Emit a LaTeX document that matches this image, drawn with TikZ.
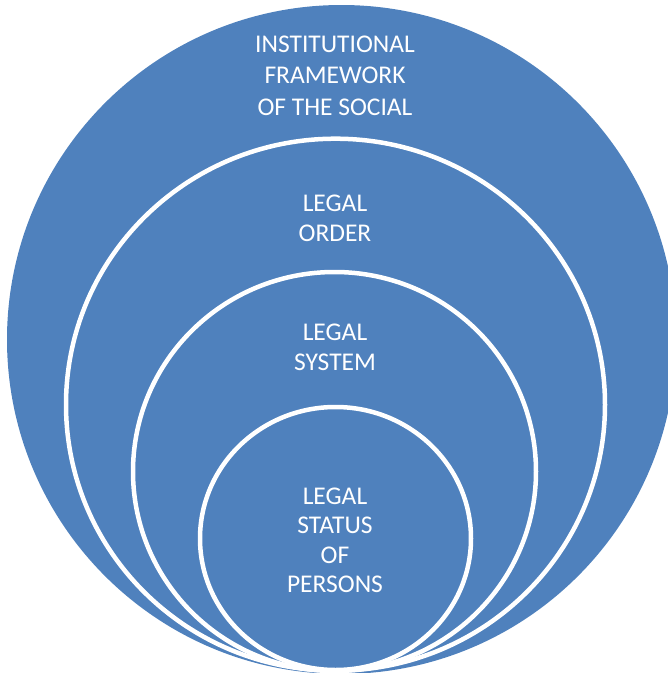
\documentclass[tikz,border=0pt]{standalone}
\usepackage{fontspec}
\setmainfont{Carlito}
\definecolor{ringblue}{HTML}{4F81BD}
\begin{document}
\begin{tikzpicture}[x=1pt,y=-1pt,
  ring/.style={fill=ringblue, draw=white, line width=4.5pt},
  lbl/.style={text=white, align=center, inner sep=0pt, anchor=base,
    font=\fontsize{25.5}{29.7}\selectfont}]
\useasboundingbox (0,0) rectangle (668,673);
\fill[ringblue] (341.5,339.5) circle[radius=334.5];
\draw[ring] (335.5,404.7) ellipse[x radius=269.5, y radius=266];
\draw[ring] (334.5,471.5) ellipse[x radius=201.5, y radius=199.5];
\draw[ring] (335.5,538.5) ellipse[x radius=135.5, y radius=131.5];
\node[lbl, font=\fontsize{25.5}{31.3}\selectfont] (social) at (335,115) {INSTITUTIONAL\\FRAMEWORK\\OF THE SOCIAL};
\node[lbl] (order) at (335,241) {LEGAL\\ORDER};
\node[lbl] (system) at (335,370) {LEGAL\\SYSTEM};
\node[lbl, font=\fontsize{25.5}{29.4}\selectfont] (status) at (335,592.7) {LEGAL\\STATUS\\OF\\PERSONS};
\end{tikzpicture}
\end{document}
